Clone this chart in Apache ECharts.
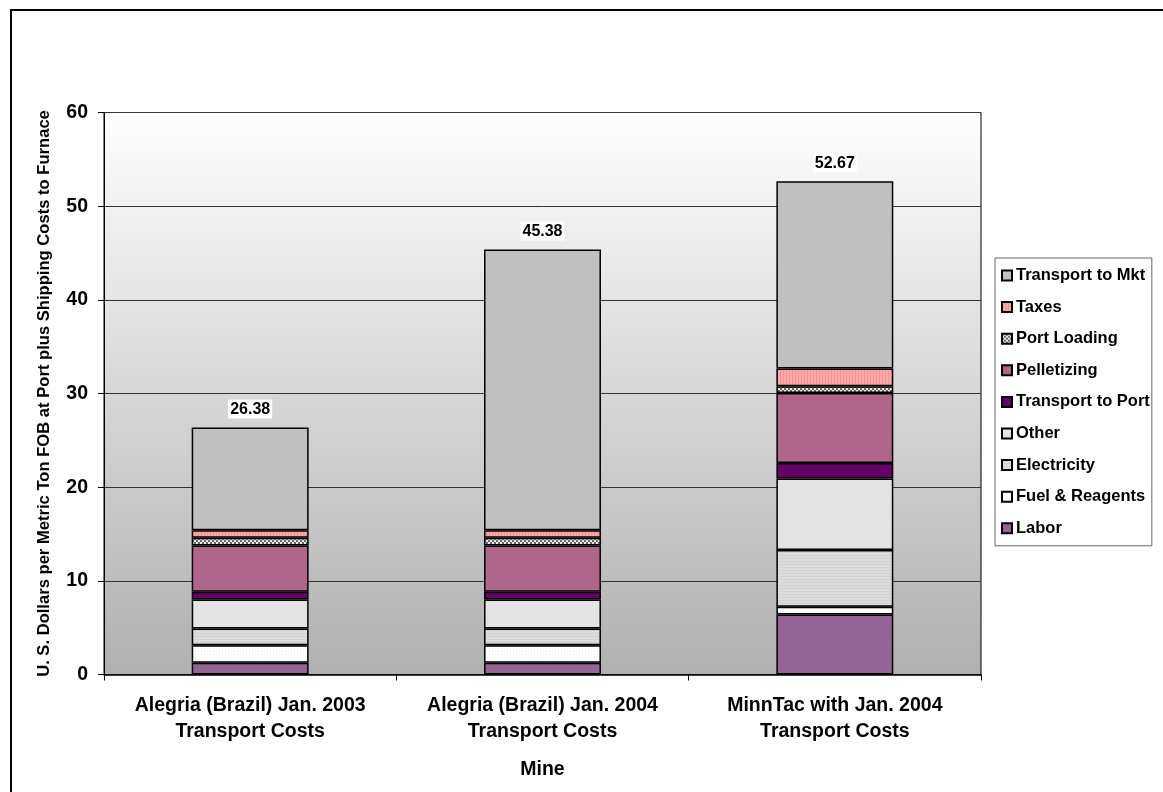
<!DOCTYPE html>
<html>
<head>
<meta charset="utf-8">
<script src="https://cdn.jsdelivr.net/npm/echarts@6/dist/echarts.min.js"></script>
<style>html,body{margin:0;padding:0;background:#fff;}#c{width:1163px;height:792px;}</style>
</head>
<body>
<div id="c"></div>
<script>
const categories = [
  "Alegria (Brazil) Jan. 2003\nTransport Costs",
  "Alegria (Brazil) Jan. 2004\nTransport Costs",
  "MinnTac with Jan. 2004\nTransport Costs"
];
const labor          = [1.25, 1.25, 6.41];
const fuelReagents   = [1.86, 1.86, 0.82];
const electricity    = [1.81, 1.81, 6.05];
const other          = [3.09, 3.09, 7.65];
const transportPort  = [0.82, 0.82, 1.66];
const pelletizing    = [4.95, 4.95, 7.47];
const portLoading    = [0.81, 0.81, 0.72];
const taxes          = [0.82, 0.82, 1.89];
const transportMkt   = [10.97, 29.97, 20.00];
const totals         = [26.38, 45.38, 52.67];
const yTicks         = [0, 10, 20, 30, 40, 50, 60];

function pattern(w, h, draw) {
  const c = document.createElement('canvas');
  c.width = w; c.height = h;
  const ctx = c.getContext('2d');
  draw(ctx);
  return { image: c, repeat: 'repeat' };
}
const checker = pattern(4, 4, ctx => {
  ctx.fillStyle = '#e8e8e8'; ctx.fillRect(0,0,4,4);
  ctx.fillStyle = '#6a6a6a'; ctx.fillRect(0,0,2,2); ctx.fillRect(2,2,2,2);
});
const stripes = pattern(3, 3, ctx => {
  ctx.fillStyle = '#ffa8a8'; ctx.fillRect(0,0,3,3);
  ctx.fillStyle = '#f39494'; ctx.fillRect(0,0,1,3);
});
const laborPat = pattern(2, 2, ctx => {
  ctx.fillStyle = '#9a6a9c'; ctx.fillRect(0,0,2,2);
  ctx.fillStyle = '#8e5e90'; ctx.fillRect(0,0,1,1); ctx.fillRect(1,1,1,1);
});
const elecPat = pattern(3, 3, ctx => {
  ctx.fillStyle = '#dcdcdc'; ctx.fillRect(0,0,3,3);
  ctx.fillStyle = '#d2d2d2'; ctx.fillRect(0,0,3,1);
});
const fuelPat = pattern(3, 3, ctx => {
  ctx.fillStyle = '#ffffff'; ctx.fillRect(0,0,3,3);
  ctx.fillStyle = '#f0f0f0'; ctx.fillRect(0,0,1,1);
});

const defs = [
  ['Labor', labor, laborPat],
  ['Fuel & Reagents', fuelReagents, fuelPat],
  ['Electricity', electricity, elecPat],
  ['Other', other, '#e3e3e3'],
  ['Transport to Port', transportPort, '#660066'],
  ['Pelletizing', pelletizing, '#b0658a'],
  ['Port Loading', portLoading, checker],
  ['Taxes', taxes, stripes],
  ['Transport to Mkt', transportMkt, '#c0c0c0']
];

const font = 'Liberation Sans, Arial, sans-serif';
const series = defs.map(([name, data, color], i) => {
  const s = {
    name, type: 'bar', stack: 'total', data,
    barWidth: '40%',
    itemStyle: { color, borderColor: '#000', borderWidth: 1.5 },
    emphasis: { disabled: true }
  };
  if (i === defs.length - 1) {
    s.label = {
      show: true, position: 'top', distance: 9,
      formatter: p => totals[p.dataIndex].toFixed(2),
      fontFamily: font,
      fontWeight: 'bold', fontSize: 16, color: '#000',
      backgroundColor: '#fff', padding: [2, 2, 1, 2]
    };
  }
  return s;
});

const chart = echarts.init(document.getElementById('c'));
chart.setOption({
  animation: false,
  backgroundColor: '#fff',
  textStyle: { fontFamily: font },
  graphic: [{
    type: 'rect', shape: { x: 11, y: 10, width: 1300, height: 900 },
    style: { fill: null, stroke: '#000', lineWidth: 2 }, silent: true, z: 100
  }],
  grid: {
    left: 104, right: 182, top: 112.5, bottom: 117.5,
    show: true, borderColor: '#000', borderWidth: 1,
    backgroundColor: new echarts.graphic.LinearGradient(0, 0, 0, 1, [
      { offset: 0, color: '#fefefe' }, { offset: 1, color: '#b0b0b0' }
    ])
  },
  legend: {
    orient: 'vertical', left: 995, top: 258,
    data: defs.map(d => d[0]).reverse(),
    itemWidth: 10, itemHeight: 10, itemGap: 14.6,
    padding: [9, 2, 9, 6],
    borderColor: '#666', borderWidth: 1, backgroundColor: '#fff',
    textStyle: { fontFamily: font, fontWeight: 'bold', fontSize: 16.5, color: '#000', padding: [0, 0, 0, -1] },
    icon: 'rect', selectedMode: false
  },
  xAxis: {
    type: 'category', data: categories,
    name: 'Mine', nameLocation: 'middle', nameGap: 85,
    nameTextStyle: { fontFamily: font, fontWeight: 'bold', fontSize: 19.5, color: '#000' },
    axisLine: { lineStyle: { color: '#000', width: 1.5 } },
    axisTick: { show: true, interval: 0, length: 6, lineStyle: { color: '#000' } },
    axisLabel: { interval: 0, fontFamily: font, fontWeight: 'bold', fontSize: 19.5, color: '#000', margin: 18, lineHeight: 26 }
  },
  yAxis: {
    type: 'value', min: yTicks[0], max: yTicks[yTicks.length - 1], interval: 10,
    name: 'U. S. Dollars per Metric Ton FOB at Port plus Shipping Costs to Furnace',
    nameLocation: 'middle', nameGap: 51,
    nameTextStyle: { fontFamily: font, fontWeight: 'bold', fontSize: 16.6, color: '#000' },
    axisLine: { show: true, lineStyle: { color: '#000', width: 1 } },
    axisTick: { show: true, length: 6, lineStyle: { color: '#000' } },
    axisLabel: { fontFamily: font, fontWeight: 'bold', fontSize: 19.5, color: '#000', margin: 16 },
    splitLine: { lineStyle: { color: '#333', width: 1 } }
  },
  series
});
</script>
</body>
</html>
